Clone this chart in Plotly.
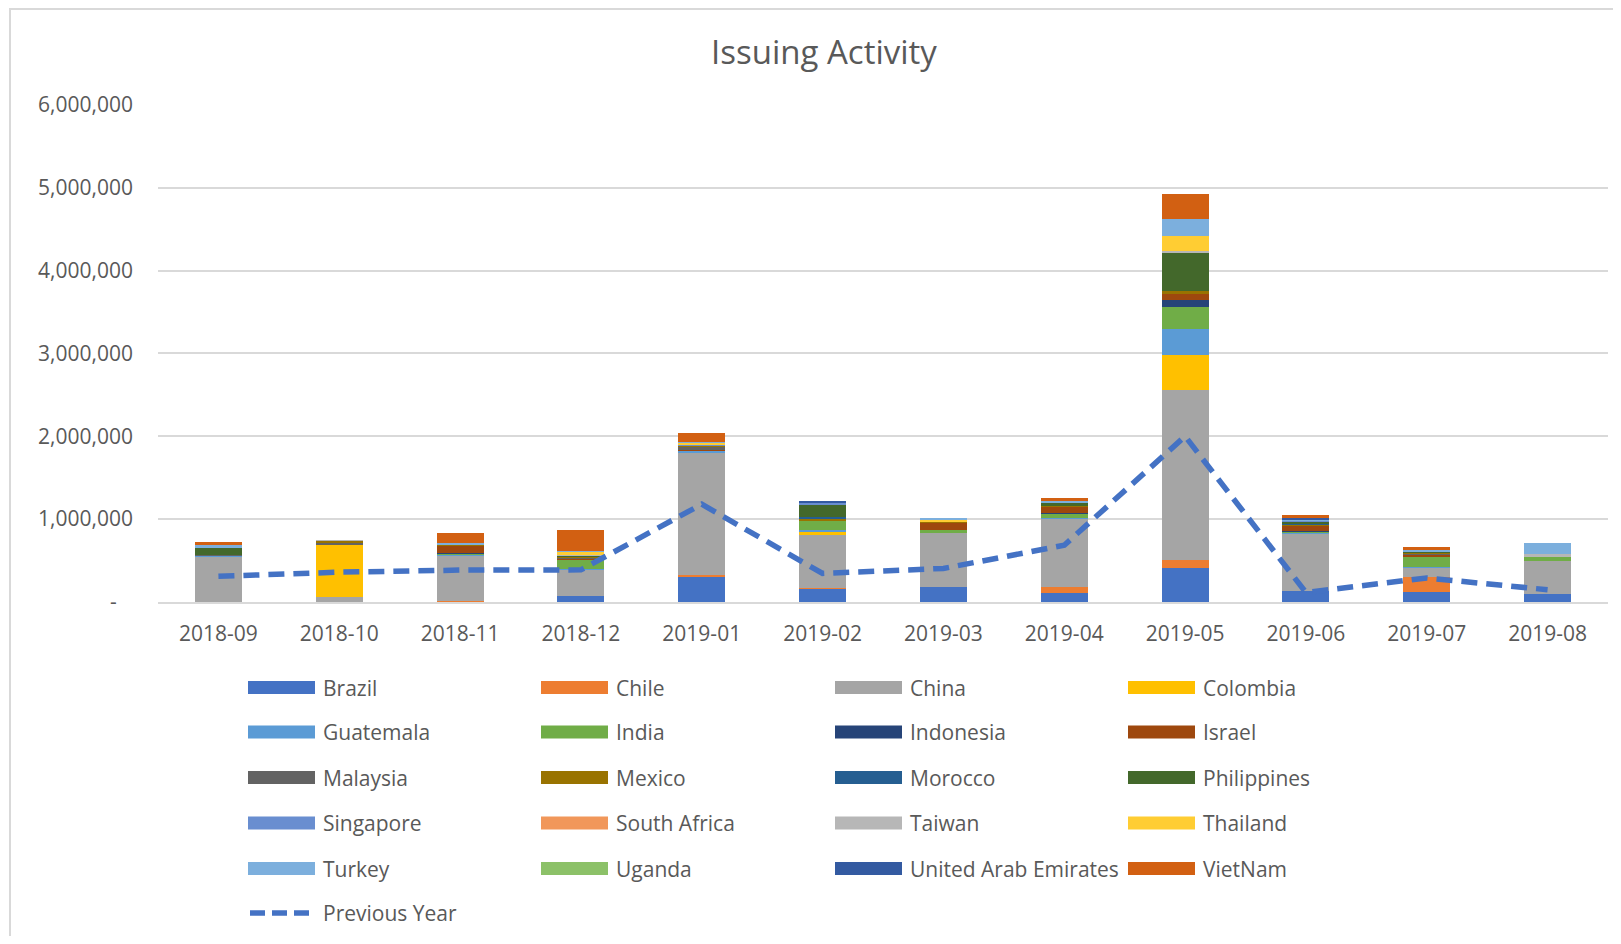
import plotly.graph_objects as go

months = ["2018-09", "2018-10", "2018-11", "2018-12", "2019-01", "2019-02",
          "2019-03", "2019-04", "2019-05", "2019-06", "2019-07", "2019-08"]

brazil      = [0, 0, 0, 72000, 305000, 160000, 176000, 104000, 416000, 136000, 116000, 100000]
chile       = [5000, 0, 15000, 0, 16000, 12000, 0, 72000, 93000, 0, 185000, 0]
china       = [545000, 57000, 545000, 320000, 1486000, 637000, 660000, 833000, 2046000, 695000, 116000, 389000]
colombia    = [0, 640000, 0, 0, 0, 44000, 0, 0, 421000, 0, 0, 0]
guatemala   = [15000, 0, 10000, 10000, 20000, 10000, 0, 10000, 321000, 10000, 10000, 0]
india       = [0, 0, 15000, 112000, 0, 124000, 31000, 48000, 260000, 15000, 120000, 60000]
indonesia   = [0, 0, 8000, 0, 0, 0, 0, 12000, 89000, 5000, 0, 0]
israel      = [0, 0, 85000, 15000, 10000, 0, 92000, 68000, 72000, 64000, 30000, 0]
malaysia    = [5000, 15000, 5000, 5000, 35000, 0, 0, 0, 0, 0, 5000, 0]
mexico      = [0, 30000, 5000, 10000, 15000, 20000, 10000, 10000, 40000, 10000, 10000, 0]
morocco     = [0, 0, 0, 10000, 5000, 15000, 0, 0, 0, 12000, 0, 0]
philippines = [93000, 0, 10000, 10000, 0, 160000, 0, 40000, 449000, 28000, 15000, 0]
singapore   = [0, 0, 0, 0, 5000, 15000, 0, 0, 0, 5000, 0, 0]
south_africa = [0, 0, 0, 0, 0, 0, 0, 0, 0, 0, 0, 0]
taiwan      = [0, 5000, 0, 5000, 0, 0, 0, 5000, 32000, 0, 0, 32000]
thailand    = [0, 0, 0, 35000, 25000, 0, 28000, 0, 180000, 0, 0, 0]
turkey      = [21000, 0, 20000, 15000, 10000, 5000, 17000, 15000, 200000, 20000, 25000, 129000]
uganda      = [0, 0, 0, 0, 0, 0, 0, 0, 0, 0, 0, 0]
uae         = [0, 0, 0, 0, 0, 5000, 0, 0, 0, 8000, 0, 0]
vietnam     = [45000, 0, 115000, 256000, 105000, 0, 0, 40000, 308000, 43000, 30000, 0]

previous_year = [310000, 360000, 385000, 388000, 1180000, 345000, 405000, 685000, 2000000, 115000, 290000, 148000]

series_names = ["Brazil", "Chile", "China", "Colombia", "Guatemala", "India", "Indonesia",
                "Israel", "Malaysia", "Mexico", "Morocco", "Philippines", "Singapore",
                "South Africa", "Taiwan", "Thailand", "Turkey", "Uganda",
                "United Arab Emirates", "VietNam"]
series_values = [brazil, chile, china, colombia, guatemala, india, indonesia, israel,
                 malaysia, mexico, morocco, philippines, singapore, south_africa, taiwan,
                 thailand, turkey, uganda, uae, vietnam]
series_colors = ["#4472C4", "#ED7D31", "#A5A5A5", "#FFC000", "#5B9BD5", "#70AD47",
                 "#264478", "#9E480E", "#636363", "#997300", "#255E91", "#43682B",
                 "#698ED0", "#F1975A", "#B7B7B7", "#FFCD33", "#7CAFDD", "#8CC168",
                 "#335AA1", "#D26012"]

y_tickvals = [0, 1000000, 2000000, 3000000, 4000000, 5000000, 6000000]
y_ticktext = ["-\u00a0\u00a0\u00a0", "1,000,000", "2,000,000", "3,000,000", "4,000,000",
              "5,000,000", "6,000,000"]

# page has an 8px body margin; work in page coordinates and convert
OFF = 8
W, H = 1621 - 2 * OFF, 944 - 2 * OFF
PL, PR, PT, PB = 158, 1608, 104, 602          # plot area in page coords
L, R, T, B = PL - OFF, W - (PR - OFF), PT - OFF, H - (PB - OFF)
PW, PH = W - L - R, H - T - B
FONT = "Open Sans"
TXT = "#595959"


def px(xp):
    return (xp - OFF - L) / PW


def py(yp):
    return (H - B - (yp - OFF)) / PH


fig = go.Figure()
for name, vals, col in zip(series_names, series_values, series_colors):
    fig.add_trace(go.Bar(x=months, y=vals, name=name, marker=dict(color=col, line=dict(width=0)),
                         showlegend=False))

fig.add_trace(go.Scatter(x=months, y=previous_year, mode="lines", name="Previous Year",
                         line=dict(color="#4472C4", width=5.5, dash="16px,9px"),
                         showlegend=False))

shapes = []
annotations = []

# chart frame (no visible bottom edge in the reference)
shapes.append(dict(type="rect", xref="paper", yref="paper", x0=px(10), x1=px(1640),
                   y0=py(960), y1=py(9), line=dict(color="#D9D9D9", width=2),
                   fillcolor="rgba(0,0,0,0)", layer="below"))

# custom legend
col_x = [248, 541, 835, 1128]
row_y = [687.5, 732, 777.5, 823, 868.5, 913]
sym_w, sym_h, gap = 67, 13, 6
for i, (name, col) in enumerate(zip(series_names, series_colors)):
    r, c = divmod(i, 4)
    x0, yc = col_x[c], row_y[r]
    shapes.append(dict(type="rect", xref="paper", yref="paper", x0=px(x0), x1=px(x0 + sym_w),
                       y0=py(yc + sym_h / 2), y1=py(yc - sym_h / 2), fillcolor=col,
                       line=dict(width=0)))
    annotations.append(dict(xref="paper", yref="paper", x=px(x0 + sym_w + gap), y=py(yc),
                            text=name, showarrow=False, xanchor="left", yanchor="middle",
                            font=dict(family=FONT, size=21, color=TXT)))
r = len(series_names) // 4
yc = row_y[r]
shapes.append(dict(type="line", xref="paper", yref="paper", x0=px(col_x[0] + 2),
                   x1=px(col_x[0] + sym_w), y0=py(yc), y1=py(yc),
                   line=dict(color="#4472C4", width=5.5, dash="15px,7px")))
annotations.append(dict(xref="paper", yref="paper", x=px(col_x[0] + sym_w + gap), y=py(yc),
                        text="Previous Year", showarrow=False, xanchor="left", yanchor="middle",
                        font=dict(family=FONT, size=21, color=TXT)))

annotations.append(dict(xref="paper", yref="paper", x=px(823.5), y=py(51), text="Issuing Activity",
                        showarrow=False, xanchor="center", yanchor="middle",
                        font=dict(family=FONT, size=33, color=TXT)))

fig.update_layout(
    width=W, height=H,
    margin=dict(l=L, r=R, t=T, b=B, autoexpand=False),
    barmode="stack", bargap=0.61,
    plot_bgcolor="white", paper_bgcolor="white",
    font=dict(family=FONT, size=21, color=TXT),
    showlegend=False,
    shapes=shapes, annotations=annotations,
    xaxis=dict(type="category", showgrid=False, showline=True, linecolor="#D9D9D9", linewidth=2,
               ticks="", tickfont=dict(family=FONT, size=21, color=TXT), ticklabelstandoff=12),
    yaxis=dict(range=[0, 6010000], tickvals=y_tickvals, ticktext=y_ticktext, showgrid=True,
               gridcolor="#D9D9D9", gridwidth=2, zeroline=False, showline=False, ticks="",
               tickfont=dict(family=FONT, size=21, color=TXT), ticklabelstandoff=24),
)

fig.write_html("out.html")
